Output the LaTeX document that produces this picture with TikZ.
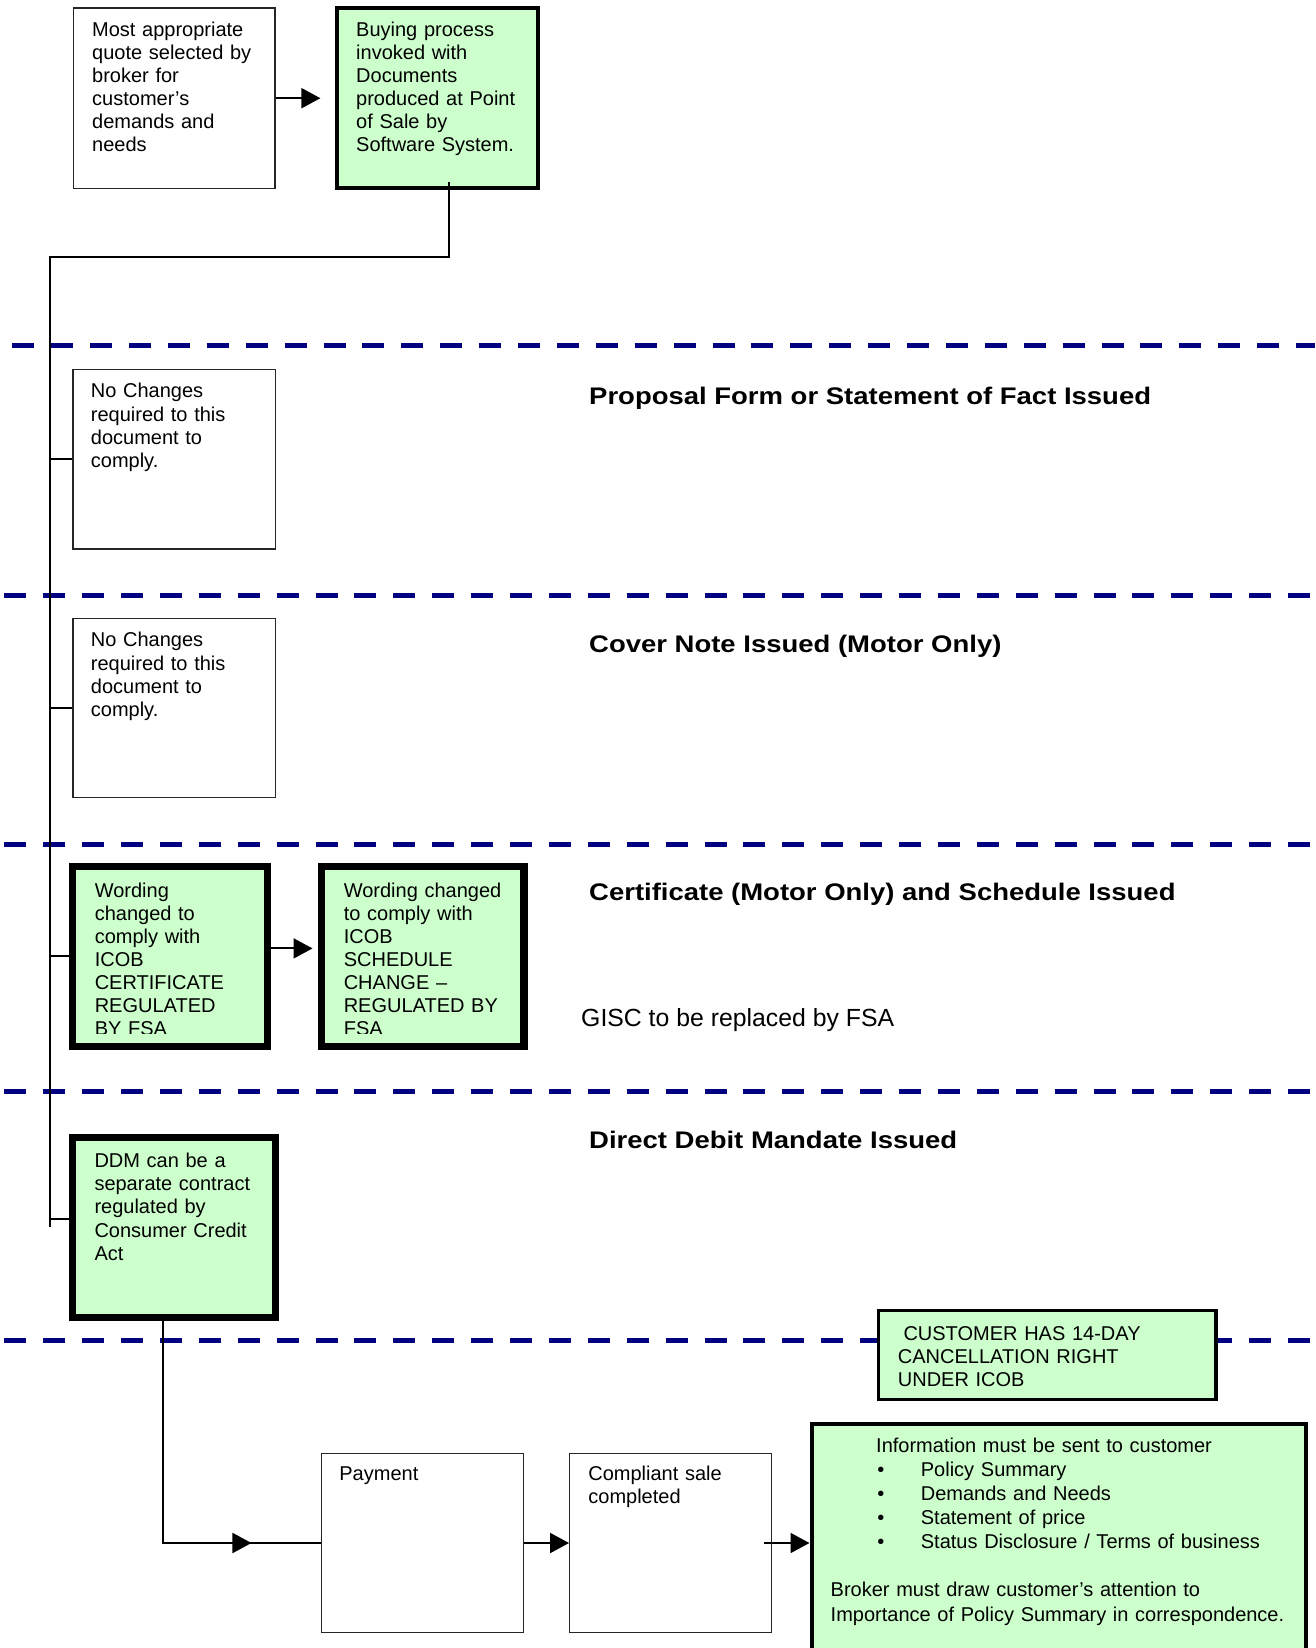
\documentclass[tikz,border=0pt]{standalone}
\usepackage{fontspec}
\usepackage{graphicx}
\setmainfont{Liberation Sans}
\usetikzlibrary{arrows.meta,calc}
\definecolor{mintfill}{RGB}{204,255,204}
\definecolor{sepnavy}{RGB}{0,0,128}
\newcommand{\headtxt}[1]{\scalebox{1.145}[1]{#1}}
\begin{document}
\begin{tikzpicture}[x=1pt,y=-1pt,
  thinbox/.style={draw=black!85, line width=1.3pt, fill=white, inner sep=0pt},
  greenbox/.style={draw=black, fill=mintfill, inner sep=0pt},
  boxtext/.style={anchor=base west, inner sep=0pt, text width=480pt, align=left,
    font=\fontsize{20}{#1}\selectfont},
  boxtext/.default=23,
  heading/.style={anchor=base west, inner sep=0pt, font=\fontsize{24}{28}\selectfont\bfseries},
  link/.style={line width=2pt},
  arr/.style={line width=2pt, -{Triangle[length=19pt,width=20pt]}},
  sep/.style={draw=sepnavy, line width=5pt, dash pattern=on 22pt off 16.9pt},
]
\useasboundingbox (0,0) rectangle (1315,1648);

% section separators
\draw[sep] (12.3,345.7) -- (1315,345.7);
\draw[sep] (4.3,595) -- (1315,595);
\draw[sep] (4.3,844) -- (1315,844);
\draw[sep] (4.3,1091) -- (1315,1091);
\draw[sep] (4.3,1340) -- (1315,1340);

% boxes
\node[thinbox, minimum width=201.8pt, minimum height=180.3pt] (quote) at (174.1,98.2) {};
\node[greenbox, line width=4.5pt, minimum width=201.3pt, minimum height=179.8pt] (buy) at (437.5,97.9) {};
\node[thinbox, minimum width=202.3pt, minimum height=179.3pt] (nc1) at (174.1,459.3) {};
\node[thinbox, minimum width=202.3pt, minimum height=179.3pt] (nc2) at (174.1,708) {};
\node[greenbox, line width=7.2pt, minimum width=195.6pt, minimum height=180.1pt] (certA) at (170,956.4) {};
\node[greenbox, line width=7.2pt, minimum width=202.4pt, minimum height=180.1pt] (certB) at (422.7,956.4) {};
\node[greenbox, line width=7pt, minimum width=203.5pt, minimum height=180pt] (ddm) at (173.75,1227.5) {};
\node[greenbox, line width=3.3pt, minimum width=337.6pt, minimum height=88.6pt] (cust) at (1047.2,1355) {};
\node[thinbox, minimum width=201.9pt, minimum height=179.2pt] (pay) at (422.45,1543) {};
\node[thinbox, minimum width=201.8pt, minimum height=179.2pt] (comp) at (670.6,1543) {};
\node[greenbox, line width=4.5pt, minimum width=494.3pt, minimum height=237.7pt] (info) at (1058.9,1542.9) {};

% box texts
\node[boxtext=22.9] (quotetxt) at (92,36.7) {Most appropriate\\quote selected by\\broker for\\customer’s\\demands and\\needs};
\node[boxtext=22.9] (buytxt) at (356,36.7) {Buying process\\invoked with\\Documents\\produced at Point\\of Sale by\\Software System.};
\node[boxtext=23.3] (nc1txt) at (90.7,397.7) {No Changes\\required to this\\document to\\comply.};
\node[boxtext=23.3] (nc2txt) at (90.7,646.7) {No Changes\\required to this\\document to\\comply.};
\begin{scope}
  \clip (60,850) rectangle (540,1033);
  \node[boxtext=23] (certAtxt) at (94.6,897.3) {Wording\\changed to\\comply with\\ICOB\\CERTIFICATE\\REGULATED\\BY FSA};
  \node[boxtext=23] (certBtxt) at (343.6,897.3) {Wording changed\\to comply with\\ICOB\\SCHEDULE\\CHANGE –\\REGULATED BY\\FSA};
\end{scope}
\node[boxtext=23.1] (ddmtxt) at (94.3,1167.7) {DDM can be a\\separate contract\\regulated by\\Consumer Credit\\Act};
\node[boxtext=23.2] (custtxt) at (897.7,1340) {\hspace*{5.6pt}CUSTOMER HAS 14-DAY\\CANCELLATION RIGHT\\UNDER ICOB};
\node[boxtext=23.3] (paytxt) at (339.2,1480) {Payment};
\node[boxtext=23.3] (comptxt) at (588.2,1480) {Compliant sale\\completed};
\node[boxtext=24.1] (infotxt) at (830.5,1452.3) {%
  \hspace*{45.5pt}Information must be sent to customer\\
  \hspace*{46.7pt}\makebox[43.5pt][l]{•}Policy Summary\\
  \hspace*{46.7pt}\makebox[43.5pt][l]{•}Demands and Needs\\
  \hspace*{46.7pt}\makebox[43.5pt][l]{•}Statement of price\\
  \hspace*{46.7pt}\makebox[43.5pt][l]{•}Status Disclosure / Terms of business\\[24.1pt]
  Broker must draw customer’s attention to\\
  Importance of Policy Summary in correspondence.};

% section headings
\node[heading] (hprop) at (589,404) {\headtxt{Proposal Form or Statement of Fact Issued}};
\node[heading] (hcover) at (589,652.7) {\headtxt{Cover Note Issued (Motor Only)}};
\node[heading] (hcert) at (589,900) {\headtxt{Certificate (Motor Only) and Schedule Issued}};
\node[heading] (hddm) at (589,1148.7) {\headtxt{Direct Debit Mandate Issued}};
\node[anchor=base west, inner sep=0pt, font=\fontsize{24.8}{28}\selectfont] (gisc) at (581,1026) {GISC to be replaced by FSA};

% connectors
\coordinate (bend) at (49.5,256.7);
\coordinate (trunkend) at (49.5,1227.3);
\coordinate (ddmtap) at (49.5,1219);
\draw[arr, shorten >=14.2pt] (quote.east) -- (quote.east -| buy.west);
\draw[link] ($(buy.south)+(11.5,-8)$) |- (bend) -- (trunkend);
\draw[link] (nc1.west -| bend) -- (nc1.west);
\draw[link] (nc2.west -| bend) -- (nc2.west);
\draw[link] (certA.west -| bend) -- (certA.west);
\draw[link] (ddmtap) -- (ddmtap -| ddm.west);
\draw[arr, shorten >=5.4pt] ($(certA.east)+(0,-8)$) -- ($(certB.west)+(0,-8)$);
\draw[link] ($(ddm.south)+(-11,0)$) |- (pay.west);
\draw[arr] ($(pay.west)+(-114.3,0)$) -- ($(pay.west)+(-69.4,0)$);
\draw[arr] (pay.east) -- (comp.west);
\draw[arr] ($(comp.east)+(-7.7,0)$) -- (info.west |- comp.east);
\end{tikzpicture}
\end{document}
